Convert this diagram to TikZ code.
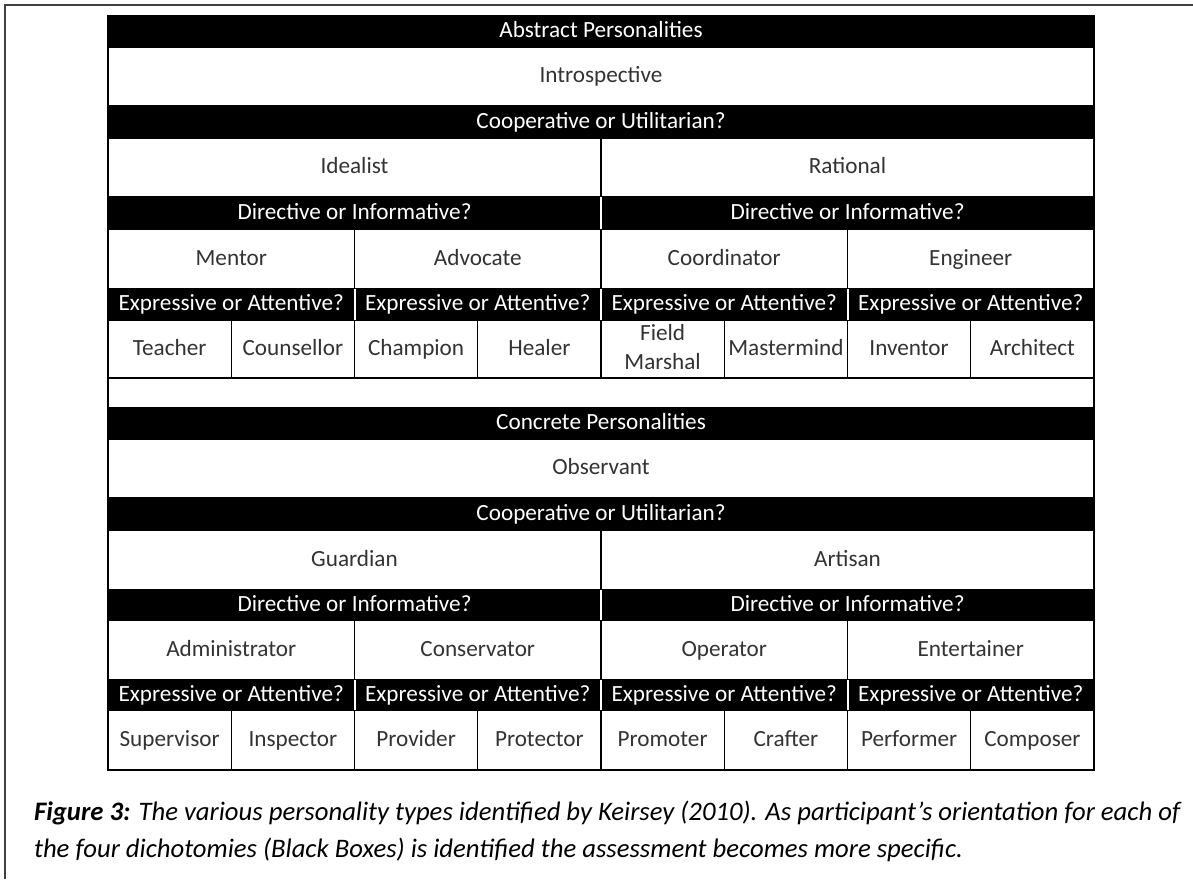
\documentclass[tikz,border=0pt]{standalone}
\usepackage{fontspec}
\setmainfont{Carlito}
% one table cell: style, name, x1, y1, x2, y2, text
\newcommand{\tcell}[7]{%
  \node[#1, minimum width={((#5)-(#3))*0.5pt}, minimum height={((#6)-(#4))*0.5pt}]
    (#2) at ({((#3)+(#5))/2},{((#4)+(#6))/2}) {\vphantom{Ahg}#7};}
\begin{document}
\begin{tikzpicture}[x=0.5pt, y=-0.5pt,
  bar/.style={fill=black, text=white, inner sep=0pt, outer sep=0pt,
    font=\fontsize{11.6}{13}\selectfont},
  box/.style={draw=black, line width=0.6pt, fill=white, text=black!80,
    inner sep=0pt, outer sep=0pt, align=center,
    font=\fontsize{11.6}{14.5}\selectfont},
  gap/.style={white, line width=1pt}]
  \useasboundingbox (0,0) rectangle (1193,879);
  % Page frame (cut off at right and bottom)
  \draw[line width=1pt, black!75] (5,879) -- (5,5) -- (1193,5);

  % Abstract personalities
  \tcell{bar}{abs}{108}{16}{1094}{47}{Abstract Personalities}
  \tcell{box}{intro}{108}{47}{1094}{106}{Introspective}
  \tcell{bar}{coopA}{108}{106}{1094}{138}{Cooperative or Utilitarian?}
  \tcell{box}{ideal}{108}{138}{601}{197}{Idealist}
  \tcell{box}{ratio}{601}{138}{1094}{197}{Rational}
  \tcell{bar}{dirA1}{108}{197}{601}{229}{Directive or Informative?}
  \tcell{bar}{dirA2}{601}{197}{1094}{229}{Directive or Informative?}
  \foreach \i/\nm/\txt in {0/mentor/Mentor, 1/advoc/Advocate,
                           2/coord/Coordinator, 3/engin/Engineer} {
    \tcell{box}{\nm}{108+\i*246.5}{229}{108+(\i+1)*246.5}{289}{\txt}
    \tcell{bar}{expA\i}{108+\i*246.5}{289}{108+(\i+1)*246.5}{320}{Expressive or Attentive?}
  }
  \foreach \i/\nm/\txt in {0/teach/Teacher, 1/couns/Counsellor, 2/champ/Champion,
                           3/heal/Healer, 4/field/{Field\\Marshal\vphantom{g}}, 5/master/Mastermind,
                           6/invent/Inventor, 7/archi/Architect} {
    \tcell{box}{\nm}{108+\i*123.25}{320}{108+(\i+1)*123.25}{378}{\txt}
  }
  \tcell{box}{spacer}{108}{378}{1094}{408}{}

  % Concrete personalities
  \tcell{bar}{conc}{108}{408}{1094}{439}{Concrete Personalities}
  \tcell{box}{observ}{108}{439}{1094}{498}{Observant}
  \tcell{bar}{coopC}{108}{498}{1094}{530}{Cooperative or Utilitarian?}
  \tcell{box}{guard}{108}{530}{601}{590}{Guardian}
  \tcell{box}{artis}{601}{530}{1094}{590}{Artisan}
  \tcell{bar}{dirC1}{108}{590}{601}{620}{Directive or Informative?}
  \tcell{bar}{dirC2}{601}{590}{1094}{620}{Directive or Informative?}
  \foreach \i/\nm/\txt in {0/admin/Administrator, 1/conserv/Conservator,
                           2/operat/Operator, 3/entert/Entertainer} {
    \tcell{box}{\nm}{108+\i*246.5}{620}{108+(\i+1)*246.5}{680}{\txt}
    \tcell{bar}{expC\i}{108+\i*246.5}{680}{108+(\i+1)*246.5}{710}{Expressive or Attentive?}
  }
  \foreach \i/\nm/\txt in {0/superv/Supervisor, 1/inspec/Inspector, 2/provid/Provider,
                           3/protec/Protector, 4/promot/Promoter, 5/craft/Crafter,
                           6/perform/Performer, 7/compos/Composer} {
    \tcell{box}{\nm}{108+\i*123.25}{710}{108+(\i+1)*123.25}{770}{\txt}
  }

  % White dividers in the black bars
  \draw[gap] (dirA1.north east) -- (dirA1.south east);
  \draw[gap] (dirC1.north east) -- (dirC1.south east);
  \foreach \i in {0,1,2} {
    \draw[gap] (expA\i.north east) -- (expA\i.south east);
    \draw[gap] (expC\i.north east) -- (expC\i.south east);
  }
  % Table outline
  \draw[line width=0.8pt] (abs.north west) rectangle (archi.south east);
  \draw[line width=0.8pt] (conc.north west) rectangle (compos.south east);

  % Caption
  \node[anchor=west, font=\fontsize{13.35}{16}\itshape] (cap1) at (27,813)
    {\textbf{Figure 3:} The various personality types identified by Keirsey (2010). As participant’s orientation for each of};
  \node[anchor=west, font=\fontsize{13.35}{16}\itshape] (cap2) at (27,850)
    {the four dichotomies (Black Boxes) is identified the assessment becomes more specific.};
\end{tikzpicture}
\end{document}
